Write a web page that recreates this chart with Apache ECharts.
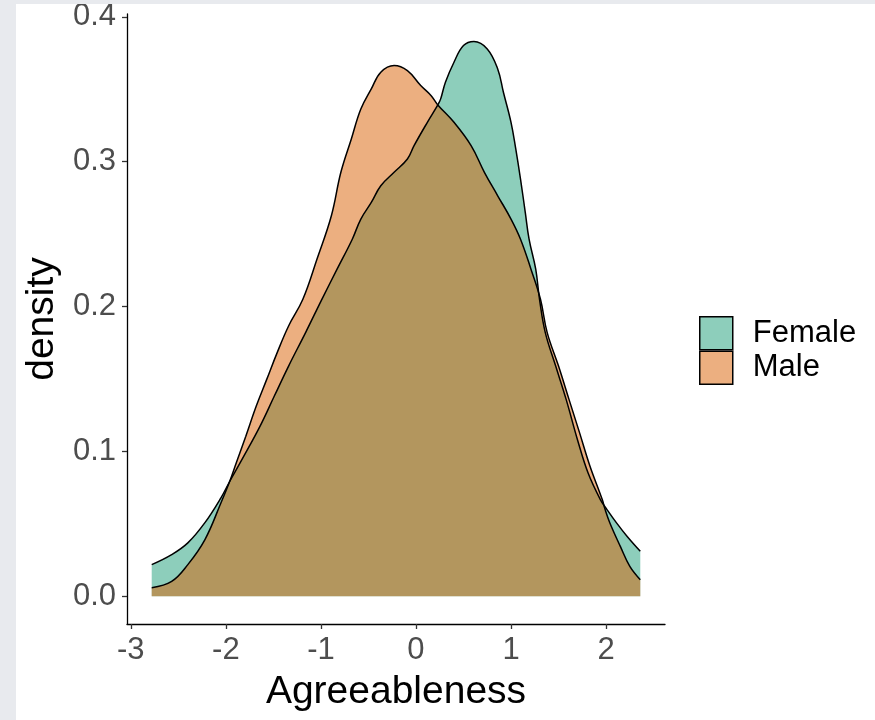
<!DOCTYPE html>
<html>
<head>
<meta charset="utf-8">
<script src="https://cdn.jsdelivr.net/npm/echarts@6/dist/echarts.min.js"></script>
<style>
  body { margin: 0; background: #e8eaee; width: 875px; height: 720px; overflow: hidden; }
  #main { position: absolute; left: 16px; top: 4px; width: 859px; height: 716px; background: #fff; }
</style>
</head>
<body>
<div id="main"></div>
<script>
// density estimates
const femaleX = [-2.78, -2.57, -2.40, -2.22, -2.05, -1.96, -1.83, -1.64, -1.49, -1.34, -1.16, -0.99, -0.83,
  -0.67, -0.58, -0.47, -0.37, -0.23, -0.09, -0.02, 0.12, 0.23, 0.26, 0.31, 0.40, 0.50, 0.61, 0.75, 0.86,
  0.92, 1.00, 1.05, 1.10, 1.15, 1.19, 1.26, 1.30, 1.36, 1.47, 1.58, 1.70, 1.81, 1.94, 2.01, 2.11, 2.22, 2.36];
const femaleY = [0.0218, 0.0287, 0.0368, 0.0508, 0.0681, 0.0792, 0.0944, 0.1174, 0.1382, 0.1589, 0.1822, 0.2050, 0.2258,
  0.2465, 0.2604, 0.2719, 0.2834, 0.2927, 0.3019, 0.3111, 0.3272, 0.3392, 0.3434, 0.3549, 0.3687, 0.3802, 0.3830, 0.3779, 0.3641,
  0.3480, 0.3272, 0.3088, 0.2880, 0.2650, 0.2465, 0.2258, 0.2050, 0.1822, 0.1589, 0.1359, 0.1079, 0.0852, 0.0667, 0.0598, 0.0506, 0.0414, 0.0310];

const maleX = [-2.78, -2.57, -2.40, -2.22, -2.05, -1.96, -1.89, -1.79, -1.68, -1.57, -1.46, -1.34, -1.19, -1.04,
  -0.89, -0.79, -0.68, -0.58, -0.47, -0.37, -0.23, -0.09, 0.05, 0.16, 0.23, 0.40, 0.58, 0.72, 0.86,
  1.00, 1.10, 1.21, 1.31, 1.38, 1.50, 1.61, 1.72, 1.83, 1.96, 1.99, 2.04, 2.15, 2.25, 2.36];
const maleY = [0.0059, 0.0102, 0.0218, 0.0391, 0.0647, 0.0792, 0.0921, 0.1105, 0.1313, 0.1497, 0.1682, 0.1866, 0.2050, 0.2330,
  0.2627, 0.2927, 0.3157, 0.3364, 0.3503, 0.3618, 0.3664, 0.3629, 0.3526, 0.3456, 0.3392, 0.3272, 0.3111, 0.2927, 0.2765,
  0.2604, 0.2465, 0.2258, 0.2050, 0.1822, 0.1589, 0.1359, 0.1131, 0.0899, 0.0667, 0.0598, 0.0506, 0.0344, 0.0206, 0.0114];

const xTicks = [-3, -2, -1, 0, 1, 2];
const yTicks = [0, 0.1, 0.2, 0.3, 0.4];

const font = 'Liberation Sans, Arial, sans-serif';

function zip(xs, ys) {
  return xs.map((x, i) => [x, ys[i]]);
}

const chart = echarts.init(document.getElementById('main'));

const option = {
  animation: false,
  textStyle: { fontFamily: font },
  grid: { left: 111, right: 210, top: 10, bottom: 96, outerBoundsMode: 'none' },
  legend: {
    orient: 'vertical',
    left: 678,
    top: 307,
    itemWidth: 33,
    itemHeight: 33,
    itemGap: 0,
    icon: 'rect',
    itemStyle: { borderColor: '#000', borderWidth: 1.5 },
    textStyle: { fontFamily: font, fontSize: 31, color: '#000', lineHeight: 33, padding: [0, 0, 0, 15] },
    data: ['Female', 'Male']
  },
  xAxis: {
    type: 'value',
    min: -3.04,
    max: 2.62,
    name: 'Agreeableness',
    nameLocation: 'middle',
    nameGap: 49,
    nameTextStyle: { fontFamily: font, fontSize: 39, color: '#000' },
    splitLine: { show: false },
    axisLine: { onZero: false, lineStyle: { color: '#000', width: 1.3 } },
    axisTick: { length: 5, lineStyle: { color: '#333', width: 1.3 }, customValues: xTicks },
    axisLabel: { customValues: xTicks, fontSize: 31, color: '#4d4d4d', margin: 11, formatter: v => String(v) }
  },
  yAxis: {
    type: 'value',
    min: -0.0192,
    max: 0.402,
    name: 'density',
    nameLocation: 'middle',
    nameRotate: 90,
    nameGap: 59,
    nameTextStyle: { fontFamily: font, fontSize: 39, color: '#000' },
    splitLine: { show: false },
    axisLine: { onZero: false, lineStyle: { color: '#000', width: 1.3 } },
    axisTick: { length: 5, lineStyle: { color: '#333', width: 1.3 }, customValues: yTicks },
    axisLabel: { customValues: yTicks, fontSize: 31, color: '#4d4d4d', margin: 11, formatter: v => v.toFixed(1) }
  },
  series: [
    {
      name: 'Female',
      type: 'line',
      data: zip(femaleX, femaleY),
      showSymbol: false,
      smooth: 0.4,
      itemStyle: { color: 'rgba(27,158,119,0.5)' },
      lineStyle: { color: '#000', width: 1.5 },
      areaStyle: { color: 'rgba(27,158,119,0.5)', opacity: 1 }
    },
    {
      name: 'Male',
      type: 'line',
      data: zip(maleX, maleY),
      showSymbol: false,
      smooth: 0.4,
      itemStyle: { color: 'rgba(217,95,2,0.5)' },
      lineStyle: { color: '#000', width: 1.5 },
      areaStyle: { color: 'rgba(217,95,2,0.5)', opacity: 1 }
    }
  ]
};

chart.setOption(option);
</script>
</body>
</html>
